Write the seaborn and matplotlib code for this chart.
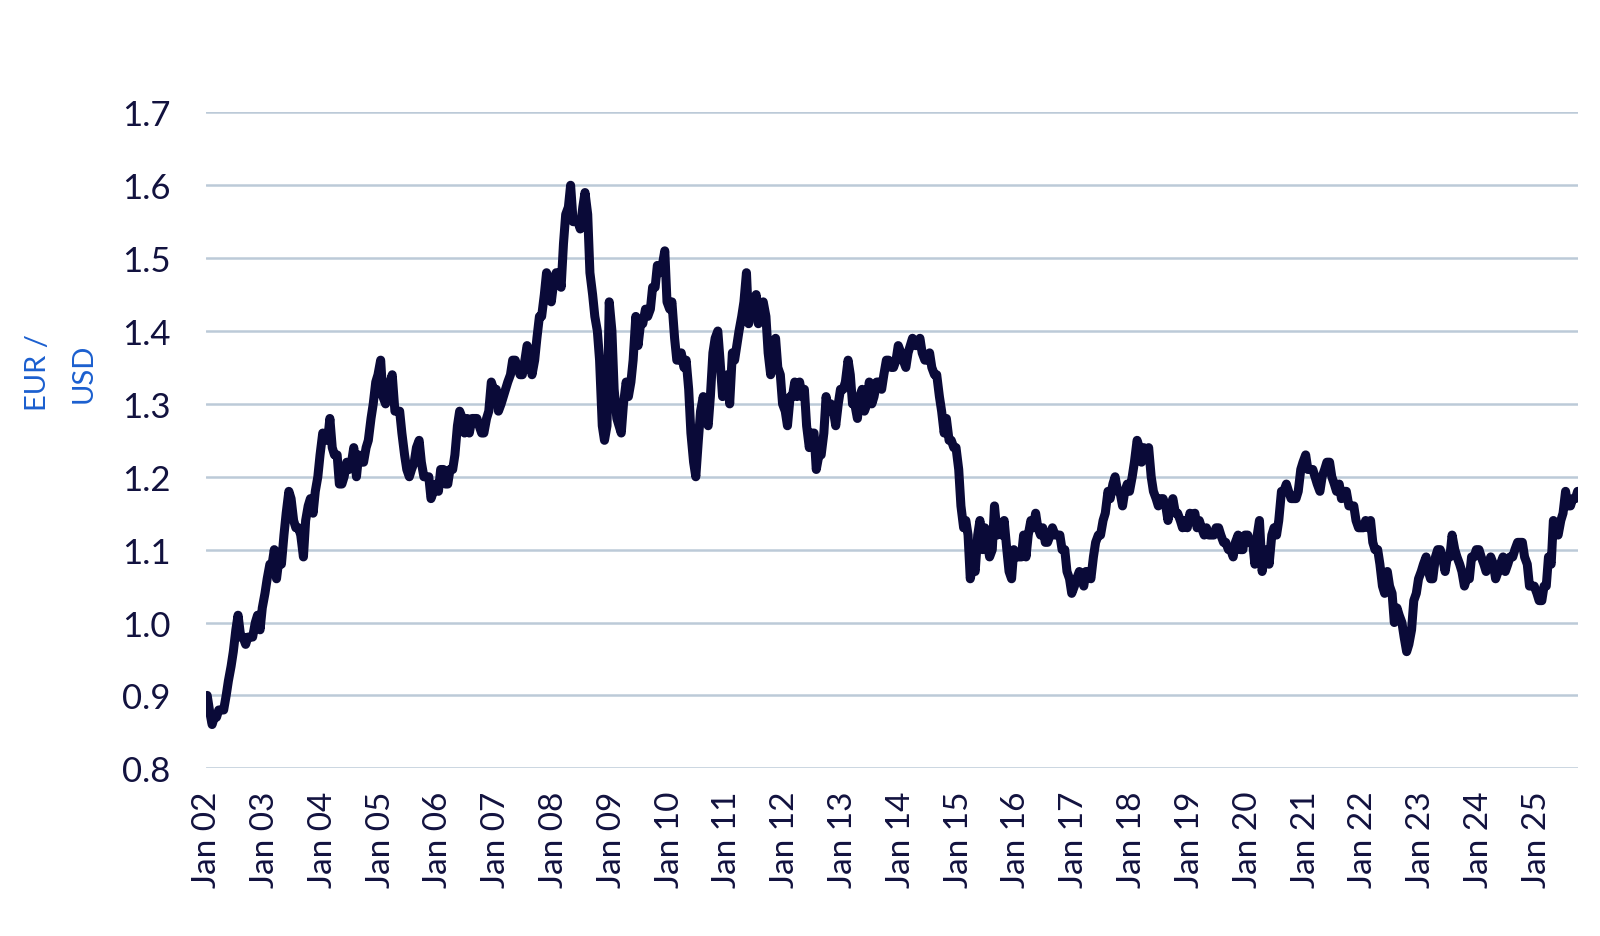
import pandas as pd
import matplotlib
matplotlib.use("Agg")
import matplotlib.pyplot as plt
import seaborn as sns

# EUR/USD, valores (dia 1 y 15 de cada mes)
y2002 = [0.90, 0.88, 0.86, 0.87, 0.87, 0.88, 0.88, 0.88, 0.90, 0.92, 0.94, 0.96,
         0.99, 1.01, 0.98, 0.98, 0.97, 0.98, 0.98, 0.98, 1.00, 1.01, 0.99, 1.02]
y2003 = [1.04, 1.06, 1.08, 1.08, 1.10, 1.06, 1.09, 1.08, 1.12, 1.15, 1.18, 1.17,
         1.14, 1.13, 1.13, 1.12, 1.09, 1.14, 1.16, 1.17, 1.15, 1.18, 1.20, 1.23]
y2004 = [1.26, 1.25, 1.25, 1.28, 1.24, 1.23, 1.23, 1.19, 1.19, 1.20, 1.22, 1.21,
         1.22, 1.24, 1.20, 1.23, 1.22, 1.22, 1.24, 1.25, 1.28, 1.30, 1.33, 1.34]
y2005 = [1.36, 1.31, 1.30, 1.31, 1.33, 1.34, 1.29, 1.29, 1.29, 1.26, 1.23, 1.21,
         1.20, 1.21, 1.22, 1.24, 1.25, 1.22, 1.20, 1.20, 1.20, 1.17, 1.18, 1.19]
y2006 = [1.18, 1.21, 1.21, 1.19, 1.19, 1.21, 1.21, 1.23, 1.27, 1.29, 1.28, 1.26,
         1.28, 1.26, 1.28, 1.28, 1.28, 1.27, 1.26, 1.26, 1.28, 1.29, 1.33, 1.32]
y2007 = [1.32, 1.29, 1.30, 1.31, 1.32, 1.33, 1.34, 1.36, 1.36, 1.35, 1.34, 1.34,
         1.36, 1.38, 1.37, 1.34, 1.36, 1.39, 1.42, 1.42, 1.45, 1.48, 1.47, 1.44]
y2008 = [1.47, 1.48, 1.48, 1.46, 1.52, 1.56, 1.57, 1.60, 1.55, 1.55, 1.55, 1.54,
         1.57, 1.59, 1.56, 1.48, 1.45, 1.42, 1.40, 1.36, 1.27, 1.25, 1.27, 1.44]
y2009 = [1.40, 1.32, 1.28, 1.27, 1.26, 1.30, 1.33, 1.31, 1.33, 1.36, 1.42, 1.38,
         1.41, 1.41, 1.43, 1.42, 1.43, 1.46, 1.46, 1.49, 1.48, 1.49, 1.51, 1.44]
y2010 = [1.43, 1.44, 1.39, 1.36, 1.36, 1.37, 1.35, 1.36, 1.32, 1.26, 1.22, 1.20,
         1.25, 1.29, 1.31, 1.28, 1.27, 1.31, 1.37, 1.39, 1.40, 1.36, 1.31, 1.33]
y2011 = [1.34, 1.30, 1.37, 1.36, 1.38, 1.40, 1.42, 1.44, 1.48, 1.41, 1.44, 1.42,
         1.45, 1.41, 1.43, 1.44, 1.42, 1.37, 1.34, 1.38, 1.39, 1.35, 1.34, 1.30]
y2012 = [1.29, 1.27, 1.31, 1.31, 1.33, 1.31, 1.33, 1.31, 1.32, 1.27, 1.24, 1.26,
         1.26, 1.21, 1.23, 1.23, 1.26, 1.31, 1.29, 1.30, 1.29, 1.27, 1.30, 1.32]
y2013 = [1.32, 1.33, 1.36, 1.34, 1.30, 1.30, 1.28, 1.31, 1.32, 1.29, 1.30, 1.33,
         1.30, 1.31, 1.33, 1.33, 1.32, 1.34, 1.36, 1.36, 1.35, 1.35, 1.36, 1.38]
y2014 = [1.37, 1.36, 1.35, 1.37, 1.38, 1.39, 1.38, 1.38, 1.39, 1.37, 1.36, 1.36,
         1.37, 1.35, 1.34, 1.34, 1.31, 1.29, 1.26, 1.28, 1.25, 1.25, 1.24, 1.24]
y2015 = [1.21, 1.16, 1.13, 1.14, 1.12, 1.06, 1.08, 1.07, 1.12, 1.14, 1.10, 1.13,
         1.11, 1.09, 1.10, 1.16, 1.12, 1.13, 1.12, 1.14, 1.10, 1.07, 1.06, 1.10]
y2016 = [1.09, 1.09, 1.09, 1.12, 1.09, 1.12, 1.14, 1.13, 1.15, 1.13, 1.12, 1.13,
         1.11, 1.11, 1.12, 1.13, 1.12, 1.12, 1.12, 1.10, 1.10, 1.07, 1.06, 1.04]
y2017 = [1.05, 1.06, 1.07, 1.06, 1.05, 1.07, 1.07, 1.06, 1.09, 1.11, 1.12, 1.12,
         1.14, 1.15, 1.18, 1.17, 1.19, 1.20, 1.18, 1.18, 1.16, 1.18, 1.19, 1.18]
y2018 = [1.20, 1.22, 1.25, 1.24, 1.22, 1.24, 1.23, 1.24, 1.20, 1.18, 1.17, 1.16,
         1.17, 1.17, 1.16, 1.14, 1.16, 1.17, 1.15, 1.15, 1.14, 1.13, 1.14, 1.13]
y2019 = [1.15, 1.14, 1.15, 1.13, 1.14, 1.13, 1.12, 1.13, 1.12, 1.12, 1.12, 1.13,
         1.13, 1.12, 1.11, 1.11, 1.10, 1.10, 1.09, 1.11, 1.12, 1.10, 1.10, 1.12]
y2020 = [1.12, 1.11, 1.11, 1.08, 1.12, 1.14, 1.07, 1.09, 1.10, 1.08, 1.12, 1.13,
         1.12, 1.14, 1.18, 1.18, 1.19, 1.18, 1.17, 1.17, 1.17, 1.18, 1.21, 1.22]
y2021 = [1.23, 1.21, 1.21, 1.21, 1.20, 1.19, 1.18, 1.20, 1.21, 1.22, 1.22, 1.20,
         1.19, 1.18, 1.19, 1.17, 1.18, 1.18, 1.16, 1.16, 1.16, 1.14, 1.13, 1.13]
y2022 = [1.13, 1.14, 1.13, 1.14, 1.11, 1.10, 1.10, 1.08, 1.05, 1.04, 1.07, 1.05,
         1.04, 1.00, 1.02, 1.01, 1.00, 0.98, 0.96, 0.97, 0.99, 1.03, 1.04, 1.06]
y2023 = [1.07, 1.08, 1.09, 1.07, 1.06, 1.06, 1.09, 1.10, 1.10, 1.09, 1.07, 1.09,
         1.09, 1.12, 1.10, 1.09, 1.08, 1.07, 1.05, 1.06, 1.06, 1.09, 1.09, 1.10]
y2024 = [1.10, 1.09, 1.08, 1.07, 1.08, 1.09, 1.08, 1.06, 1.07, 1.08, 1.09, 1.07,
         1.08, 1.09, 1.09, 1.10, 1.11, 1.11, 1.11, 1.09, 1.08, 1.05, 1.05, 1.05]
y2025 = [1.04, 1.03, 1.03, 1.05, 1.05, 1.09, 1.08, 1.14, 1.13, 1.12, 1.14, 1.15,
         1.18, 1.16, 1.16, 1.17, 1.17, 1.18]

valores = (y2002 + y2003 + y2004 + y2005 + y2006 + y2007 + y2008 + y2009 + y2010
           + y2011 + y2012 + y2013 + y2014 + y2015 + y2016 + y2017 + y2018 + y2019
           + y2020 + y2021 + y2022 + y2023 + y2024 + y2025)
fechas = pd.date_range("2002-01-01", periods=len(valores), freq="SMS")
df = pd.DataFrame({"fecha": fechas, "eurusd": valores})

y_ticks = [0.8, 0.9, 1.0, 1.1, 1.2, 1.3, 1.4, 1.5, 1.6, 1.7]
x_ticks = pd.date_range("2002-01-01", "2025-01-01", freq="YS")
x_labels = ["Jan " + d.strftime("%y") for d in x_ticks]

color_linea = "#0a0a38"
color_texto = "#12123f"
color_grid = "#bccad8"

sns.set_style("white")
plt.rcParams["font.family"] = ["Lato", "DejaVu Sans"]

fig = plt.figure(figsize=(16, 9.37), dpi=100)
ax = fig.add_axes([0.129, 0.179, 0.857, 0.700])

sns.lineplot(data=df, x="fecha", y="eurusd", color=color_linea, linewidth=6.5, ax=ax)
ax.lines[0].set_solid_joinstyle("round")
ax.lines[0].set_solid_capstyle("round")

ax.set_ylim(0.8, 1.7)
ax.set_xlim(fechas[0] - pd.Timedelta(days=5), fechas[-1])
ax.set_yticks(y_ticks)
ax.set_yticklabels([f"{v:.1f}" for v in y_ticks])
ax.set_xticks(x_ticks)
ax.set_xticklabels(x_labels, rotation=90)
ax.tick_params(axis="y", length=0, pad=26, labelsize=25, labelcolor=color_texto)
ax.tick_params(axis="x", length=0, pad=16, labelsize=24, labelcolor=color_texto)
ax.grid(axis="y", color=color_grid, linewidth=1.8)
ax.set_axisbelow(True)
for s in ax.spines.values():
    s.set_visible(False)
ax.set_xlabel("")
ax.set_ylabel("")

# Etiqueta del eje y en dos lineas
fig.text(0.024, 0.602, "EUR /", rotation=90, ha="center", va="center",
         fontsize=21, color="#1b5fcf")
fig.text(0.052, 0.602, "USD", rotation=90, ha="center", va="center",
         fontsize=21, color="#1b5fcf")

fig.savefig("out.png", dpi=100)
